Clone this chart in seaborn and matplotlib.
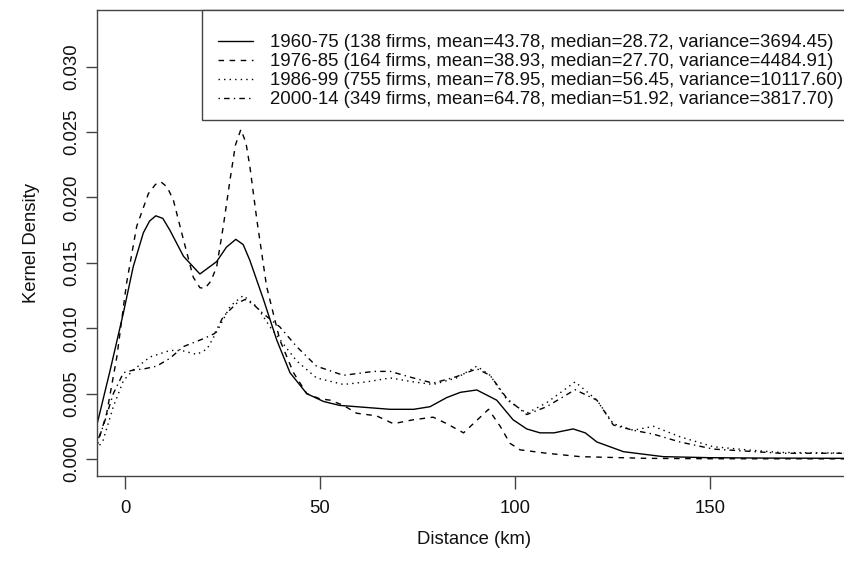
import matplotlib
matplotlib.use("Agg")
import matplotlib.pyplot as plt
from matplotlib.patches import Rectangle
import seaborn as sns
import pandas as pd

# ---- data ----
periods = ["1960-75", "1976-85", "1986-99", "2000-14"]
legend_labels = [
    "1960-75 (138 firms, mean=43.78, median=28.72, variance=3694.45)",
    "1976-85 (164 firms, mean=38.93, median=27.70, variance=4484.91)",
    "1986-99 (755 firms, mean=78.95, median=56.45, variance=10117.60)",
    "2000-14 (349 firms, mean=64.78, median=51.92, variance=3817.70)",
]

solid_x = [-7.3, -3.8, -0.4, 2.1, 4.7, 6.3, 7.9, 9.7, 11.5, 15.0, 19.2, 23.5, 26.0, 28.4, 30.3, 32.0,
           35.5, 38.9, 42.3, 46.6, 50.9, 55.0, 59.4, 68.0, 74.0, 78.2, 82.5, 86.0, 90.2, 95.3, 99.5,
           103.0, 106.4, 110.0, 114.9, 118.0, 121.0, 127.8, 138.0, 150.0, 165.0, 186.0]
solid_y = [0.0025, 0.0068, 0.0112, 0.0147, 0.0173, 0.0182, 0.0186, 0.0184, 0.0175, 0.0155, 0.01415,
           0.0151, 0.0162, 0.0168, 0.0164, 0.0152, 0.0122, 0.0091, 0.0066, 0.0050, 0.0044, 0.0041,
           0.0040, 0.0038, 0.0038, 0.0040, 0.0047, 0.0051, 0.00528, 0.0045, 0.0030, 0.0023, 0.0020,
           0.0020, 0.0023, 0.0020, 0.0013, 0.00056, 0.00018, 0.0001, 0.00007, 0.00005]

dashed_x = [-7.3, -4.7, -2.1, 0.4, 3.0, 6.0, 7.8, 9.2, 10.8, 12.4, 15.0, 17.5, 19.2, 20.5, 22.0, 23.5,
            25.2, 26.9, 28.3, 29.7, 31.0, 32.0, 33.8, 36.3, 39.7, 43.2, 46.6, 50.0, 52.6, 56.0, 59.4,
            64.5, 68.8, 73.9, 79.0, 82.5, 86.8, 89.3, 93.2, 96.2, 98.7, 101.3, 108.1, 116.7, 133.8,
            150.0, 186.0]
dashed_y = [0.0009, 0.0035, 0.0078, 0.01345, 0.0178, 0.0203, 0.0210, 0.0212, 0.0208, 0.0198, 0.01675,
            0.0139, 0.0131, 0.01305, 0.0136, 0.0147, 0.0178, 0.0213, 0.0240, 0.0252, 0.0242, 0.0224,
            0.0183, 0.0132, 0.0091, 0.0066, 0.0050, 0.0046, 0.0045, 0.0041, 0.0035, 0.0033, 0.0027,
            0.0030, 0.0032, 0.0027, 0.0020, 0.0027, 0.0038, 0.0025, 0.0012, 0.0007, 0.00044, 0.00018,
            0.00005, 0.00002, 0.00001]

dotted_x = [-7.3, -5.6, -3.0, -0.4, 2.1, 6.4, 11.5, 14.5, 18.4, 21.0, 24.0, 27.0, 30.3, 33.8, 37.2,
            40.6, 44.0, 49.1, 56.0, 62.0, 68.0, 73.9, 79.0, 85.0, 90.2, 93.6, 98.0, 103.0, 108.1,
            115.4, 121.0, 125.2, 130.3, 135.5, 142.3, 150.8, 159.4, 168.0, 186.0]
dotted_y = [0.0007, 0.00145, 0.0040, 0.0060, 0.0068, 0.0078, 0.0083, 0.0083, 0.0080, 0.0084, 0.0100,
            0.0117, 0.0125, 0.01165, 0.0101, 0.0088, 0.0075, 0.0062, 0.0057, 0.0059, 0.0062, 0.0059,
            0.0057, 0.0062, 0.0071, 0.0064, 0.0045, 0.0035, 0.0043, 0.0059, 0.0045, 0.0027, 0.0022,
            0.0025, 0.0017, 0.00094, 0.0007, 0.0005, 0.00045]

dashdot_x = [-7.3, -5.6, -3.0, -0.4, 2.1, 5.0, 8.1, 11.5, 15.0, 20.1, 23.0, 25.2, 28.6, 30.8, 33.0,
             35.5, 39.7, 44.0, 49.1, 56.0, 63.7, 68.0, 73.9, 79.0, 85.0, 90.2, 93.6, 98.0, 103.0,
             108.1, 115.4, 121.0, 125.2, 130.3, 135.5, 142.3, 150.8, 159.4, 168.0, 186.0]
dashdot_y = [0.0012, 0.0025, 0.0050, 0.0066, 0.0068, 0.0069, 0.0071, 0.0077, 0.0086, 0.0092, 0.0096,
             0.0109, 0.0119, 0.0122, 0.0118, 0.0111, 0.0101, 0.0086, 0.0071, 0.0064, 0.0067, 0.0067,
             0.0062, 0.0058, 0.0063, 0.0069, 0.0064, 0.0046, 0.0034, 0.0040, 0.0053, 0.0045, 0.0026,
             0.0022, 0.0019, 0.0013, 0.00076, 0.0006, 0.00044, 0.00044]

x_ticks = [0, 50, 100, 150]
y_ticks = [0.000, 0.005, 0.010, 0.015, 0.020, 0.025, 0.030]
x_label = "Distance (km)"
y_label = "Kernel Density"

# ---- build long table ----
frames = []
for p, xs, ys in zip(periods, [solid_x, dashed_x, dotted_x, dashdot_x],
                     [solid_y, dashed_y, dotted_y, dashdot_y]):
    frames.append(pd.DataFrame({"x": xs, "y": ys, "period": p}))
df = pd.concat(frames, ignore_index=True)

sns.set_theme(style="white")
plt.rcParams["font.family"] = ["Liberation Sans", "DejaVu Sans"]
FS = 13.3

fig = plt.figure(figsize=(8.44, 5.67), dpi=100)
W, H = 844, 567
left_px, right_px, top_px, bottom_px = 96.7, 852.0, 10.0, 476.0
ax = fig.add_axes([left_px / W, (H - bottom_px) / H, (right_px - left_px) / W,
                   (bottom_px - top_px) / H])

dash_map = {"1960-75": "", "1976-85": (4, 4), "1986-99": (1, 3), "2000-14": (1, 3, 4, 3)}
sns.lineplot(data=df, x="x", y="y", hue="period", style="period",
             palette={p: "black" for p in periods}, dashes=dash_map,
             estimator=None, sort=False, lw=1.0, legend=False, ax=ax)

ax.set_xlim(-7.26, 186.4)
ax.set_ylim(-0.0013, 0.03434)
ax.set_xticks(x_ticks)
ax.set_xticklabels([str(t) for t in x_ticks])
ax.set_yticks(y_ticks)
ax.set_yticklabels([f"{t:.3f}" for t in y_ticks], rotation=90, va="center")

for s in ax.spines.values():
    s.set_color("#444444")
    s.set_linewidth(1.0)

ax.tick_params(axis="x", length=9, width=1.0, color="#444444", pad=8, labelsize=FS,
               labelcolor="#111111", bottom=True)
ax.tick_params(axis="y", length=8, width=1.0, color="#444444", pad=3.5, labelsize=FS,
               labelcolor="#111111", left=True)

ax.set_xlabel(x_label, fontsize=FS, color="#111111")
ax.set_ylabel(y_label, fontsize=FS, color="#111111")
axw = right_px - left_px
axh = bottom_px - top_px
ax.xaxis.set_label_coords(0.5, (bottom_px - 540) / axh)
ax.xaxis.label.set_va("center")
ax.yaxis.set_label_coords((31 - left_px) / axw, 0.5)
ax.yaxis.label.set_va("center")

# legend frame (R style box, anchored at plot top-right)
box_l, box_t, box_r, box_b = 202.3, 10.0, 870.0, 120.0
ax.add_patch(Rectangle((box_l / W, (H - box_b) / H), (box_r - box_l) / W, (box_b - box_t) / H,
                       transform=fig.transFigure, facecolor="white", edgecolor="#444444",
                       lw=1.0, clip_on=False, zorder=4))

handles = ax.get_lines()[:4]
leg = ax.legend(handles, legend_labels, loc="upper left",
                bbox_to_anchor=(218 / W, (H - 34.2) / H), bbox_transform=fig.transFigure,
                borderaxespad=0, frameon=False, fontsize=13.4, handlelength=1.9,
                handletextpad=0.91, labelspacing=0.106, borderpad=0)
leg.set_zorder(6)
for t in leg.get_texts():
    t.set_color("#111111")

fig.savefig("out.png", dpi=100)
